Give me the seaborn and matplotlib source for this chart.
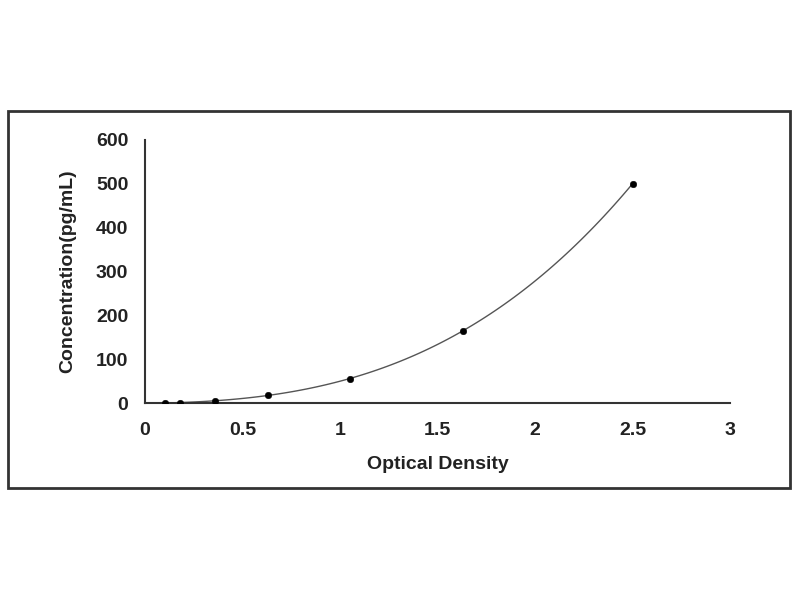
import matplotlib
matplotlib.use('Agg')
import matplotlib.pyplot as plt
import seaborn as sns
import pandas as pd
from matplotlib.patches import Rectangle

# standard curve points
od = [0.10, 0.18, 0.36, 0.63, 1.05, 1.63, 2.50]
conc = [0, 1, 5, 18, 55, 165, 500]

df = pd.DataFrame({'od': od, 'conc': conc})

sns.set_style('white')
plt.rcParams['font.family'] = ['Liberation Sans', 'DejaVu Sans']

fig = plt.figure(figsize=(8, 6), dpi=100)
fig.patches.append(Rectangle((8 / 800, 1 - 488 / 600), 782 / 800, 377 / 600,
                             transform=fig.transFigure, fill=False,
                             edgecolor='#333333', linewidth=2))

ax = fig.add_axes([145 / 800, 1 - 403 / 600, 585 / 800, 263 / 600])

# fitted trend line
sns.regplot(x='od', y='conc', data=df, order=3, ci=None, scatter=False,
            truncate=True, ax=ax, line_kws={'color': '#555555', 'linewidth': 1})
sns.scatterplot(x='od', y='conc', data=df, ax=ax, color='black', s=22,
                edgecolor='black', zorder=3)

ax.set_xlim(0, 3)
ax.set_ylim(0, 600)
ax.set_xticks([0, 0.5, 1, 1.5, 2, 2.5, 3])
ax.set_xticklabels(['0', '0.5', '1', '1.5', '2', '2.5', '3'])
ax.set_yticks([0, 100, 200, 300, 400, 500, 600])

for s in ['top', 'right']:
    ax.spines[s].set_visible(False)
for s in ['left', 'bottom']:
    ax.spines[s].set_color('#333333')
    ax.spines[s].set_linewidth(1.5)

ax.tick_params(axis='x', direction='in', length=6, width=1.2, colors='#333333',
               labelsize=14, pad=14, labelcolor='#222222')
ax.tick_params(axis='y', direction='out', length=3, width=1.2, colors='#333333',
               labelsize=14, pad=9, labelcolor='#222222')
for lab in ax.get_xticklabels() + ax.get_yticklabels():
    lab.set_fontweight('bold')

ax.set_xlabel('Optical Density', fontsize=14, fontweight='bold', labelpad=12,
              color='#222222')
ax.set_ylabel('Concentration(pg/mL)', fontsize=14, fontweight='bold', labelpad=14,
              color='#222222')

fig.savefig('out.png', dpi=100, facecolor='white')
